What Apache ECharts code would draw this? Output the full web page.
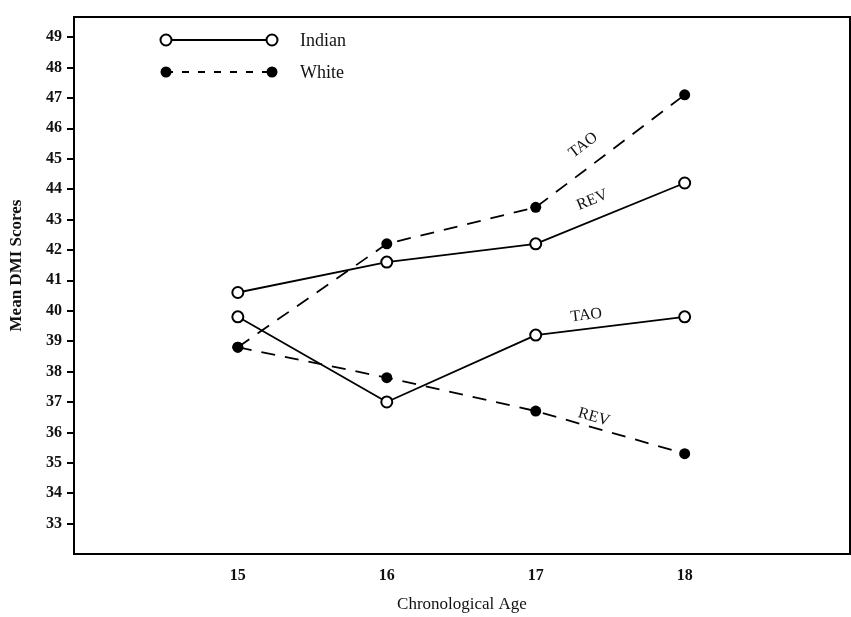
<!DOCTYPE html>
<html><head><meta charset="utf-8">
<script src="https://cdn.jsdelivr.net/npm/echarts@6/dist/echarts.min.js"></script>
<style>html,body{margin:0;padding:0;background:#fff}#c{width:851px;height:617px}</style>
</head><body><div id="c"></div>
<script>
// ---- data ----
const ages = [15, 16, 17, 18];
const indianREV = [40.6, 41.6, 42.2, 44.2];
const indianTAO = [39.8, 37.0, 39.2, 39.8];
const whiteTAO  = [38.8, 42.2, 43.4, 47.1];
const whiteREV  = [38.8, 37.8, 36.7, 35.3];
const yTickLabels = [33, 34, 35, 36, 37, 38, 39, 40, 41, 42, 43, 44, 45, 46, 47, 48, 49];
const xTickLabels = [15, 16, 17, 18];
const legendNames = ['Indian', 'White'];
// segment annotations: text, series index, anchor in data coords
const segNotes = [
  { text: 'TAO', s: 2, at: [17.32, 45.44] },
  { text: 'REV', s: 0, at: [17.38, 43.64] },
  { text: 'TAO', s: 1, at: [17.34, 39.85] },
  { text: 'REV', s: 3, at: [17.39, 36.50] }
];

const FONT = "'Liberation Serif','DejaVu Serif',serif";
const pairs = arr => ages.map((a, i) => [a, arr[i]]);
const allSeries = [indianREV, indianTAO, whiteTAO, whiteREV];

const openSym = { symbol: 'circle', symbolSize: 11,
  itemStyle: { color: '#fff', borderColor: '#000', borderWidth: 2 },
  lineStyle: { color: '#000', width: 1.8, type: 'solid' } };
const fillSym = { symbol: 'circle', symbolSize: 11,
  itemStyle: { color: '#000', borderColor: '#000', borderWidth: 0 },
  lineStyle: { color: '#000', width: 1.8, type: [14, 10] } };

const chart = echarts.init(document.getElementById('c'), null, { renderer: 'canvas' });
const option = {
  animation: false,
  backgroundColor: '#fff',
  grid: { left: 74, top: 17, width: 776, height: 537, show: true, outerBoundsMode: 'none',
          containLabel: false,
          borderColor: '#000', borderWidth: 2, backgroundColor: 'transparent' },
  xAxis: {
    type: 'value', min: 13.90, max: 19.11,
    name: 'Chronological Age', nameLocation: 'middle', nameGap: 42,
    nameTextStyle: { fontFamily: FONT, fontSize: 17, color: '#111' },
    axisLine: { show: false }, splitLine: { show: false },
    axisTick: { show: false },
    axisLabel: { customValues: xTickLabels, margin: 14, fontFamily: FONT,
                 fontSize: 16, fontWeight: 'bold', color: '#111' }
  },
  yAxis: {
    type: 'value', min: 32, max: 49.66,
    name: 'Mean DMI Scores', nameLocation: 'middle', nameGap: 49,
    nameTextStyle: { fontFamily: FONT, fontSize: 17, fontWeight: 'bold', color: '#111',
                     padding: [0, 0, 0, 40] },
    axisLine: { show: false }, splitLine: { show: false },
    axisTick: { show: true, customValues: yTickLabels, length: 7,
                lineStyle: { color: '#000', width: 2 } },
    axisLabel: { customValues: yTickLabels, margin: 12, fontFamily: FONT,
                 fontSize: 16, fontWeight: 'bold', color: '#111' }
  },
  series: [
    Object.assign({ name: 'Indian REV', type: 'line', data: pairs(indianREV), z: 3 }, openSym),
    Object.assign({ name: 'Indian TAO', type: 'line', data: pairs(indianTAO), z: 3 }, openSym),
    Object.assign({ name: 'White TAO', type: 'line', data: pairs(whiteTAO), z: 2 }, fillSym),
    Object.assign({ name: 'White REV', type: 'line', data: pairs(whiteREV), z: 2 }, fillSym)
  ]
};
chart.setOption(option);

// legend drawn as graphic (sample line with a marker at each end)
function legendRow(id, y, name, open) {
  return {
    type: 'group', id: id, children: [
      { type: 'line', shape: { x1: 166, y1: y, x2: 272, y2: y },
        style: { stroke: '#000', lineWidth: 1.8, lineDash: open ? null : [7, 9] } },
      { type: 'circle', shape: { cx: 166, cy: y, r: 5.5 },
        style: open ? { fill: '#fff', stroke: '#000', lineWidth: 2 } : { fill: '#000' } },
      { type: 'circle', shape: { cx: 272, cy: y, r: 5.5 },
        style: open ? { fill: '#fff', stroke: '#000', lineWidth: 2 } : { fill: '#000' } },
      { type: 'text', x: 300, y: y + 1,
        style: { text: name, font: '18px ' + FONT, fill: '#111', verticalAlign: 'middle', align: 'left' } }
    ]
  };
}
const graphics = [legendRow('lg0', 40, legendNames[0], true), legendRow('lg1', 72, legendNames[1], false)];

segNotes.forEach((n, i) => {
  const d = allSeries[n.s];
  const p17 = chart.convertToPixel({ gridIndex: 0 }, [ages[2], d[2]]);
  const p18 = chart.convertToPixel({ gridIndex: 0 }, [ages[3], d[3]]);
  const ang = Math.atan2(p18[1] - p17[1], p18[0] - p17[0]);
  const p = chart.convertToPixel({ gridIndex: 0 }, n.at);
  graphics.push({ type: 'text', id: 'note' + i, x: p[0], y: p[1], rotation: -ang,
    style: { text: n.text, font: '16px ' + FONT, fill: '#111', align: 'center', verticalAlign: 'middle' } });
});
chart.setOption({ graphic: graphics });
</script>
</body></html>
